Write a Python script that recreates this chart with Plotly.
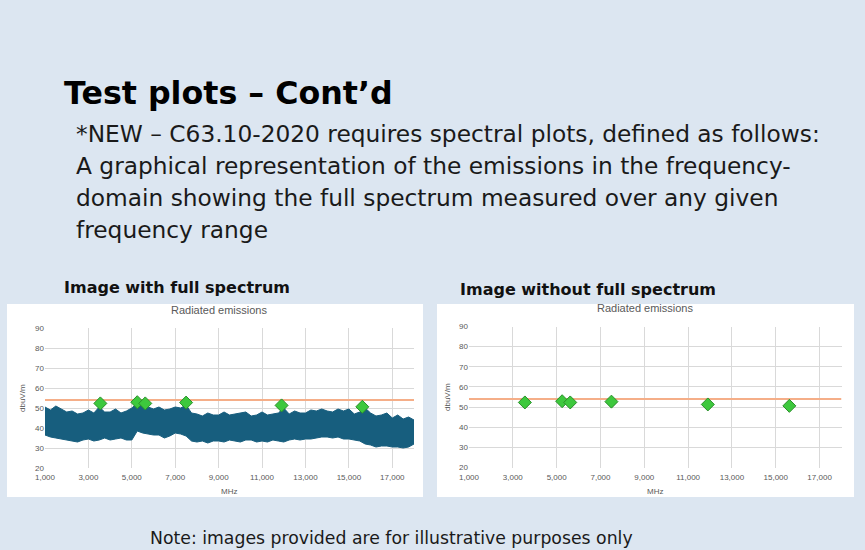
import plotly.graph_objects as go

# ---------------- data ----------------
freq_mhz = list(range(1000, 18001, 250))
noise_upper = [50.5, 49, 51, 49.5, 48, 48.5, 47, 47.5, 49, 47.5, 50.5, 48, 48, 49.5, 47.5, 48.5,
               50, 52.5, 51, 50.5, 49.5, 50.5, 49, 49.5, 50.5, 50, 51.5, 47.5, 47, 46, 47.5, 46.5,
               46.5, 48, 46.5, 47, 47.5, 48, 46, 46.5, 48, 46.5, 47, 47.5, 50, 47, 48.5, 47.5,
               47.5, 49, 48.5, 49.5, 48.5, 48, 49.5, 48.5, 49.5, 47, 48, 50, 47.5, 46, 46.5, 47.5,
               45, 46.5, 44.5, 45.5, 44]
noise_lower = [36.5, 35.5, 35, 34.5, 34, 33.5, 33, 34, 34.5, 33.5, 34, 35, 34, 34.5, 35, 34,
               34, 38.5, 37.5, 37, 36.5, 36.5, 35, 36, 37.5, 37, 36, 33.5, 33, 33.5, 32.5, 33.5,
               33.5, 33, 34, 33.5, 33, 34, 34, 33, 33.5, 33, 34, 33.5, 33, 34, 34.5, 34,
               34.5, 34.5, 35, 35.5, 35.5, 35, 35.5, 34.5, 34.5, 34, 33.5, 32, 31.5, 30.5, 31, 31,
               30.5, 30.5, 30, 30.5, 32]
peak_freq = [3550, 5250, 5620, 7500, 11900, 15620]
peak_level = [52.3, 52.9, 52.3, 52.7, 51.3, 50.6]
limit_freq = [1000, 18000]
limit_level = [54, 54]

W, H = 865, 550
BG = "#dce6f1"
NOISE = "#175e7e"
LIMIT = "#f5ae88"
GREEN = "#3dc83d"
GRID = "#d9d9d9"
TXT = "#595959"
AXF = "Liberation Sans"

fig = go.Figure()

for i, (xa, ya) in enumerate([("x", "y"), ("x2", "y2")]):
    if i == 0:
        fig.add_trace(go.Scatter(x=freq_mhz, y=noise_lower, mode="lines",
                                 line=dict(color=NOISE, width=1), xaxis=xa, yaxis=ya,
                                 showlegend=False, hoverinfo="skip"))
        fig.add_trace(go.Scatter(x=freq_mhz, y=noise_upper, mode="lines",
                                 line=dict(color=NOISE, width=1), fill="tonexty",
                                 fillcolor=NOISE, xaxis=xa, yaxis=ya, showlegend=False))
    fig.add_trace(go.Scatter(x=limit_freq, y=limit_level, mode="lines",
                             line=dict(color=LIMIT, width=2), xaxis=xa, yaxis=ya,
                             showlegend=False))
    fig.add_trace(go.Scatter(x=peak_freq, y=peak_level, mode="markers",
                             marker=dict(symbol="diamond", size=10, color=GREEN,
                                         line=dict(color="#2a8f2a", width=1)),
                             xaxis=xa, yaxis=ya, showlegend=False))

def px_x(p):
    return p / W

def px_y(p):
    return 1 - p / H

xcommon = dict(range=[1000, 18000], tick0=1000, dtick=2000, tickformat=",",
               showgrid=True, gridcolor=GRID, gridwidth=1, zeroline=False,
               showline=False, automargin=False,
               tickfont=dict(size=8, color=TXT, family=AXF), ticks="",
               ticklabelstandoff=3)
ycommon = dict(range=[20, 90], dtick=10, showgrid=True, gridcolor=GRID, gridwidth=1,
               zeroline=False, showline=False, automargin=False,
               tickfont=dict(size=8, color=TXT, family=AXF), ticks="")

fig.update_layout(
    width=W, height=H, margin=dict(l=0, r=0, t=0, b=0, autoexpand=False),
    paper_bgcolor=BG, plot_bgcolor="white",
    xaxis=dict(domain=[px_x(45), px_x(414)], anchor="y", **xcommon),
    yaxis=dict(domain=[px_y(468), px_y(328)], anchor="x", **ycommon),
    xaxis2=dict(domain=[px_x(469), px_x(841.5)], anchor="y2", **xcommon),
    yaxis2=dict(domain=[px_y(467.5), px_y(326.5)], anchor="x2", **ycommon),
    showlegend=False,
)

# white chart panels
for x0, x1 in [(7, 423), (437, 854)]:
    fig.add_shape(type="rect", xref="paper", yref="paper",
                  x0=px_x(x0), x1=px_x(x1), y0=px_y(497), y1=px_y(304),
                  fillcolor="white", line=dict(width=0), layer="below")

def note(text, x, y, size, bold=False, color="#111111", anchor="left",
         family="DejaVu Sans", angle=0):
    fig.add_annotation(text=f"<b>{text}</b>" if bold else text, xref="paper", yref="paper",
                       x=px_x(x), y=px_y(y), xanchor=anchor, yanchor="middle",
                       showarrow=False, textangle=angle,
                       font=dict(size=size, color=color, family=family))

note("Test plots – Cont’d", 62, 93, 31.7, bold=True, color="#000000")
body = ["*NEW – C63.10-2020 requires spectral plots, defined as follows:",
        "A graphical representation of the emissions in the frequency-",
        "domain showing the full spectrum measured over any given",
        "frequency range"]
for k, line in enumerate(body):
    note(line, 74, 133 + k * 32.3, 23.3, color="#1a1a1a")
note("Image with full spectrum", 62, 287, 16, bold=True)
note("Image without full spectrum", 458, 289, 16, bold=True)
note("Note: images provided are for illustrative purposes only", 148, 538, 17.3, color="#1a1a1a")

# chart titles and axis titles
note("Radiated emissions", 219, 310, 11, color=TXT, anchor="center", family=AXF)
note("Radiated emissions", 645, 308, 11, color=TXT, anchor="center", family=AXF)
note("MHz", 229, 491, 8, color=TXT, anchor="center", family=AXF)
note("MHz", 655, 491, 8, color=TXT, anchor="center", family=AXF)
note("dbuV/m", 22, 398, 8, color=TXT, anchor="center", family=AXF, angle=-90)
note("dbuV/m", 447, 397, 8, color=TXT, anchor="center", family=AXF, angle=-90)

fig.write_html("out.html", config={"displayModeBar": False},
               post_script="document.body.style.margin='0';")
